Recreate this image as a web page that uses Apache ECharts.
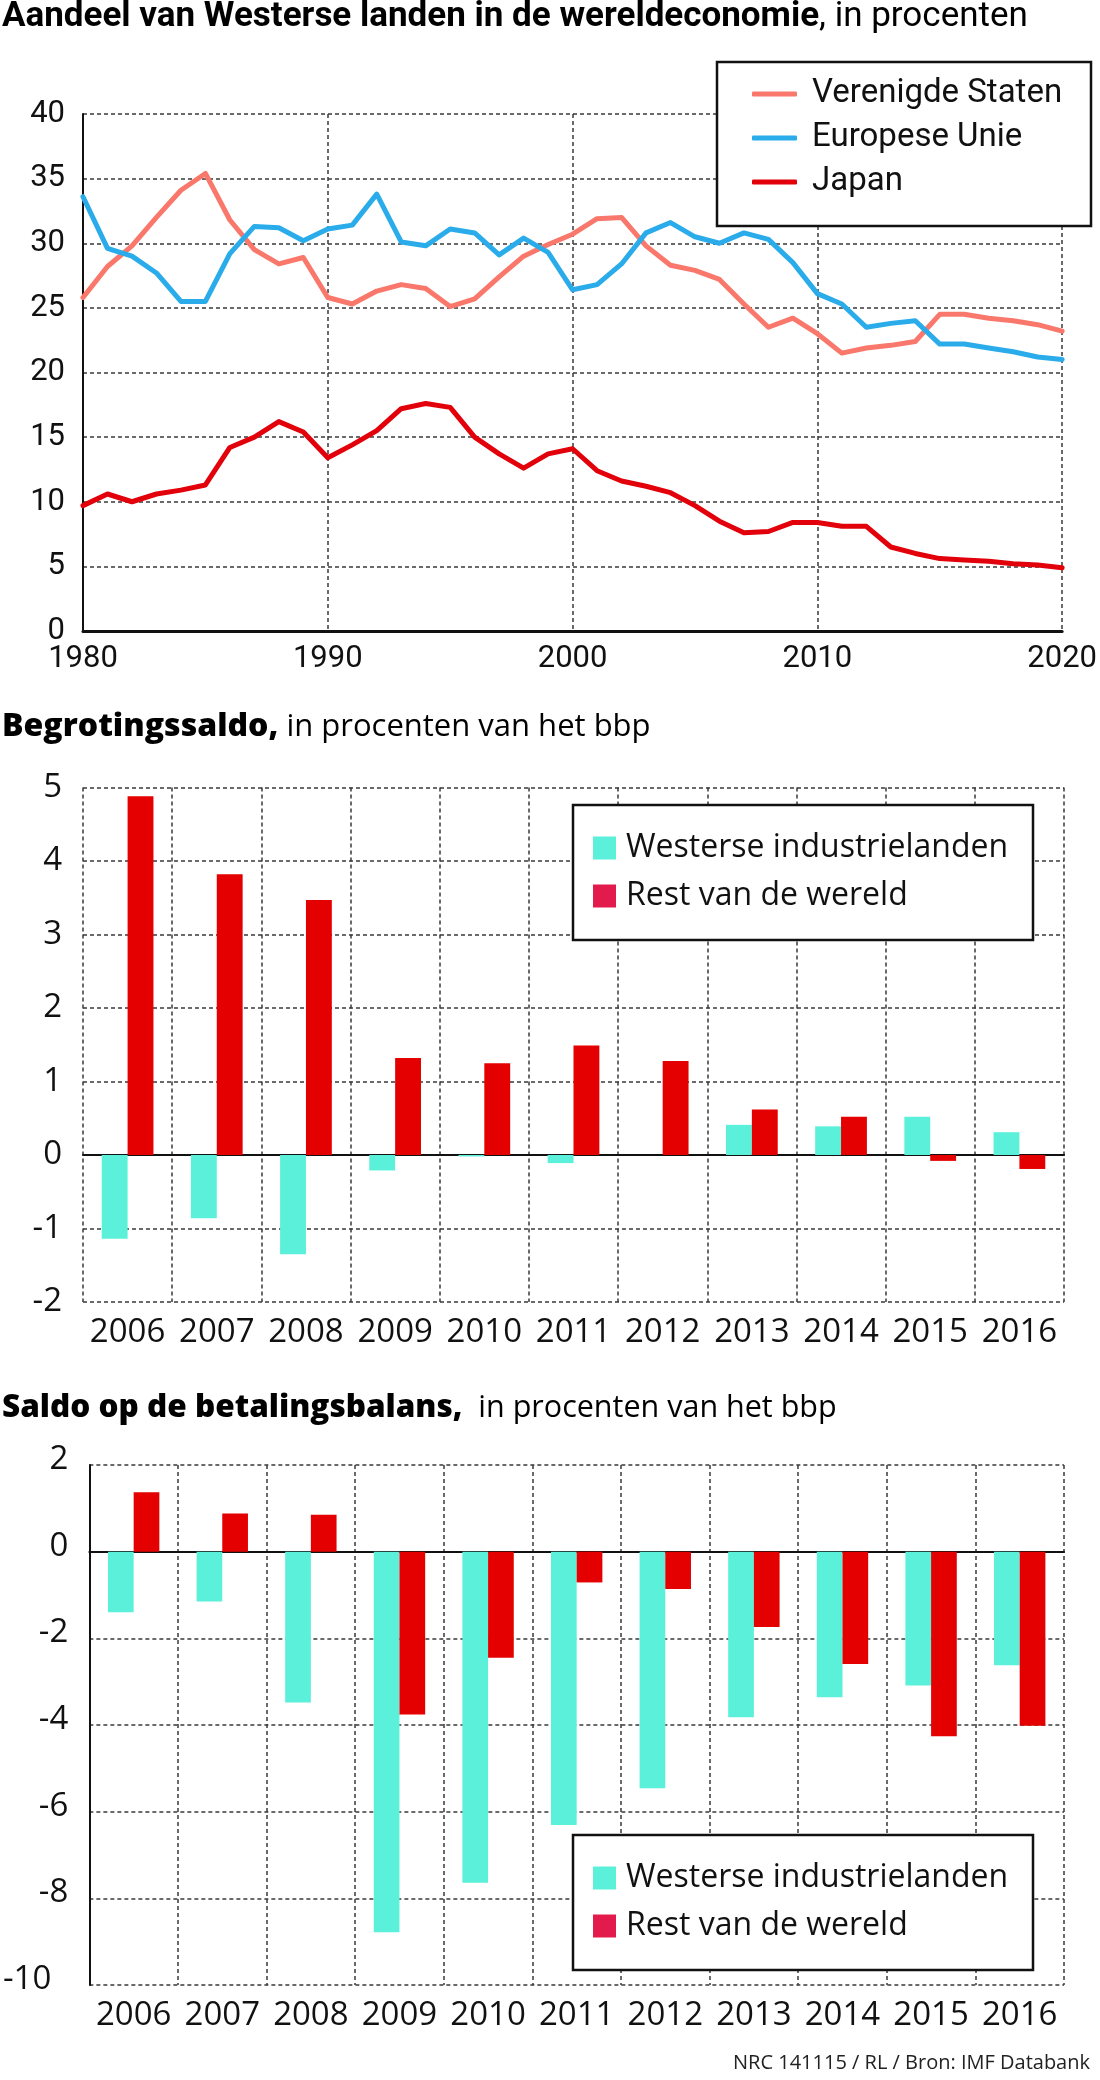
<!DOCTYPE html>
<html>
<head>
<meta charset="utf-8">
<title>Aandeel van Westerse landen in de wereldeconomie</title>
<script src="https://cdn.jsdelivr.net/npm/echarts@6/dist/echarts.min.js"></script>
<style>
  html, body { margin: 0; padding: 0; background: #fff; }
  #main { width: 1100px; height: 2080px; }
</style>
</head>
<body>
<div id="main"></div>
<script>
// --- aandeel in de wereldeconomie, in procenten (1980-2020) ---
var jaren = ['1980','1981','1982','1983','1984','1985','1986','1987','1988','1989',
             '1990','1991','1992','1993','1994','1995','1996','1997','1998','1999',
             '2000','2001','2002','2003','2004','2005','2006','2007','2008','2009',
             '2010','2011','2012','2013','2014','2015','2016','2017','2018','2019','2020'];
var verenigdeStaten = [25.8, 28.2, 29.8, 32.0, 34.1, 35.4, 31.8, 29.5, 28.4, 28.9,
                       25.8, 25.3, 26.3, 26.8, 26.5, 25.1, 25.7, 27.4, 29.0, 29.9,
                       30.7, 31.9, 32.0, 29.8, 28.3, 27.9, 27.2, 25.3, 23.5, 24.2,
                       23.0, 21.5, 21.9, 22.1, 22.4, 24.5, 24.5, 24.2, 24.0, 23.7, 23.2];
var europeseUnie = [33.6, 29.6, 29.0, 27.7, 25.5, 25.5, 29.2, 31.3, 31.2, 30.2,
                    31.1, 31.4, 33.8, 30.1, 29.8, 31.1, 30.8, 29.1, 30.4, 29.3,
                    26.4, 26.8, 28.4, 30.8, 31.6, 30.5, 30.0, 30.8, 30.3, 28.5,
                    26.1, 25.3, 23.5, 23.8, 24.0, 22.2, 22.2, 21.9, 21.6, 21.2, 21.0];
var japan = [9.7, 10.6, 10.0, 10.6, 10.9, 11.3, 14.2, 15.0, 16.2, 15.4,
             13.4, 14.4, 15.5, 17.2, 17.6, 17.3, 15.0, 13.7, 12.6, 13.7,
             14.1, 12.4, 11.6, 11.2, 10.7, 9.7, 8.5, 7.6, 7.7, 8.4,
             8.4, 8.1, 8.1, 6.5, 6.0, 5.6, 5.5, 5.4, 5.2, 5.1, 4.9];

// --- begrotingssaldo en betalingsbalans, in procenten van het bbp ---
var barJaren = ['2006','2007','2008','2009','2010','2011','2012','2013','2014','2015','2016'];
var begrotingWesters = [-1.14, -0.86, -1.35, -0.21, -0.02, -0.11, 0, 0.41, 0.39, 0.52, 0.31];
var begrotingRest    = [4.88, 3.82, 3.47, 1.32, 1.25, 1.49, 1.28, 0.62, 0.52, -0.08, -0.19];
var balansWesters = [-1.40, -1.15, -3.48, -8.78, -7.64, -6.31, -5.46, -3.82, -3.36, -3.09, -2.62];
var balansRest    = [1.37, 0.88, 0.85, -3.76, -2.45, -0.71, -0.86, -1.74, -2.59, -4.26, -4.02];

var kleurVS = '#F9786B', kleurEU = '#2AABEA', kleurJapan = '#E2000B';
var kleurTeal = '#5BF0DA', kleurRood = '#E40000', kleurRoodLegenda = '#E31B4C';

var fontTop = 'Roboto, sans-serif';
var fontBar = '"Open Sans", sans-serif';
var dash = { color: '#3a3a3a', width: 1.5, type: [4, 3] };

function barXAxes(gridIndex) {
    return [{
        type: 'category', gridIndex: gridIndex, data: barJaren, position: 'bottom',
        axisLine: { show: false, onZero: false }, axisTick: { show: false },
        axisLabel: { fontFamily: fontBar, fontSize: 33, color: '#111', margin: 14, interval: 0 },
        splitLine: { show: true, interval: 0, lineStyle: dash }
    }, {
        // zero line
        type: 'category', gridIndex: gridIndex, data: barJaren,
        axisLine: { show: true, onZero: true, lineStyle: { color: '#111', width: 2 } },
        axisTick: { show: false }, axisLabel: { show: false }, splitLine: { show: false }
    }];
}

function barSeries(name, data, color, xi, yi) {
    return {
        name: name, type: 'bar', xAxisIndex: xi, yAxisIndex: yi, data: data,
        barWidth: '29%', barGap: '0%', itemStyle: { color: color }
    };
}

function lineSeries(name, data, color) {
    return {
        name: name, type: 'line', xAxisIndex: 0, yAxisIndex: 0, data: data,
        symbol: 'none', lineStyle: { width: 5, color: color, cap: 'round', join: 'round' },
        itemStyle: { color: color }
    };
}

var barLegend = function (top) {
    return {
        orient: 'vertical', left: 593, top: top, padding: 0, itemGap: 14, z: 20,
        icon: 'rect', itemWidth: 23, itemHeight: 23, selectedMode: false,
        textStyle: { fontFamily: fontBar, fontSize: 32, color: '#111', lineHeight: 34, padding: [0, 0, 0, 5] },
        data: [
            { name: 'Westerse industrielanden', itemStyle: { color: kleurTeal } },
            { name: 'Rest van de wereld', itemStyle: { color: kleurRoodLegenda } }
        ]
    };
};

var boxStyle = { fill: '#fff', stroke: '#111', lineWidth: 2.5 };

var myChart = echarts.init(document.getElementById('main'));
var option = {
    animation: false,
    backgroundColor: '#fff',
    title: [{
        left: 2, top: 0, padding: 0,
        text: '{b|Aandeel van Westerse landen in de wereldeconomie}{r|, in procenten}',
        textStyle: { fontWeight: 'normal', rich: {
            b: { fontFamily: fontTop, fontWeight: 'bold', fontSize: 35, color: '#000' },
            r: { fontFamily: fontTop, fontSize: 35, color: '#000' }
        } }
    }, {
        left: 2, top: 711, padding: 0,
        text: '{b|Begrotingssaldo,}{r| in procenten van het bbp}',
        textStyle: { fontWeight: 'normal', rich: {
            b: { fontFamily: fontBar, fontWeight: 800, fontSize: 32, color: '#000' },
            r: { fontFamily: fontBar, fontSize: 31, color: '#000' }
        } }
    }, {
        left: 2, top: 1392, padding: 0,
        text: '{b|Saldo op de betalingsbalans,}{r|  in procenten van het bbp}',
        textStyle: { fontWeight: 'normal', rich: {
            b: { fontFamily: fontBar, fontWeight: 800, fontSize: 31.5, color: '#000' },
            r: { fontFamily: fontBar, fontSize: 30.5, color: '#000' }
        } }
    }, {
        right: 10, top: 2053, padding: 0,
        text: 'NRC 141115 / RL / Bron: IMF Databank',
        textStyle: { fontFamily: fontBar, fontWeight: 'normal', fontSize: 20, color: '#222' }
    }],
    graphic: [
        { type: 'rect', z: 10, shape: { x: 717, y: 62, width: 374, height: 164 }, style: boxStyle },
        { type: 'rect', z: 10, shape: { x: 573, y: 805, width: 460, height: 135 }, style: boxStyle },
        { type: 'rect', z: 10, shape: { x: 573, y: 1835, width: 460, height: 135 }, style: boxStyle }
    ],
    legend: [{
        orient: 'vertical', left: 752, top: 72, padding: 0, itemGap: 0, z: 20,
        icon: 'roundRect', itemWidth: 45, itemHeight: 5, selectedMode: false,
        textStyle: { fontFamily: fontTop, fontSize: 33, color: '#111', lineHeight: 34, padding: [10, 0, 0, 10] },
        data: ['Verenigde Staten', 'Europese Unie', 'Japan']
    }, barLegend(831), barLegend(1861)],
    grid: [
        { left: 83, top: 114, width: 981, height: 517 },
        { left: 83, top: 787.5, width: 981, height: 514.5 },
        { left: 83, top: 1465, width: 981, height: 520 }
    ],
    xAxis: [{
        type: 'category', gridIndex: 0, data: jaren, boundaryGap: false,
        axisLine: { lineStyle: { color: '#111', width: 3 } }, axisTick: { show: false },
        axisLabel: { fontFamily: fontTop, fontSize: 31, color: '#111', margin: 13, interval: 9 },
        splitLine: { show: true, interval: 9, lineStyle: dash }
    }].concat(barXAxes(1), barXAxes(2)),
    yAxis: [{
        type: 'value', gridIndex: 0, min: 0, max: 40, interval: 5,
        axisLine: { show: true, lineStyle: { color: '#111', width: 2 } }, axisTick: { show: false },
        axisLabel: { fontFamily: fontTop, fontSize: 31, color: '#111', margin: 18, padding: [0, 0, 18, 0] },
        splitLine: { lineStyle: dash }
    }, {
        type: 'value', gridIndex: 1, min: -2, max: 5, interval: 1,
        axisLine: { show: false }, axisTick: { show: false },
        axisLabel: { fontFamily: fontBar, fontSize: 33, color: '#111', margin: 21, padding: [0, 0, 11, 0] },
        splitLine: { lineStyle: dash }
    }, {
        type: 'value', gridIndex: 2, min: -10, max: 2, interval: 2,
        axisLine: { show: true, lineStyle: { color: '#111', width: 2 } }, axisTick: { show: false },
        axisLabel: {
            fontFamily: fontBar, fontSize: 33, color: '#111', margin: 21, padding: [0, 0, 11, 0],
            formatter: function (v) { return v === -10 ? '{m|-10}' : String(v); },
            rich: { m: { fontFamily: fontBar, fontSize: 33, color: '#111', padding: [0, 17, 0, 0] } }
        },
        splitLine: { lineStyle: dash }
    }],
    series: [
        lineSeries('Verenigde Staten', verenigdeStaten, kleurVS),
        lineSeries('Europese Unie', europeseUnie, kleurEU),
        lineSeries('Japan', japan, kleurJapan),
        barSeries('Westerse industrielanden', begrotingWesters, kleurTeal, 1, 1),
        barSeries('Rest van de wereld', begrotingRest, kleurRood, 1, 1),
        barSeries('Westerse industrielanden', balansWesters, kleurTeal, 3, 2),
        barSeries('Rest van de wereld', balansRest, kleurRood, 3, 2)
    ]
};
myChart.setOption(option);
</script>
</body>
</html>
